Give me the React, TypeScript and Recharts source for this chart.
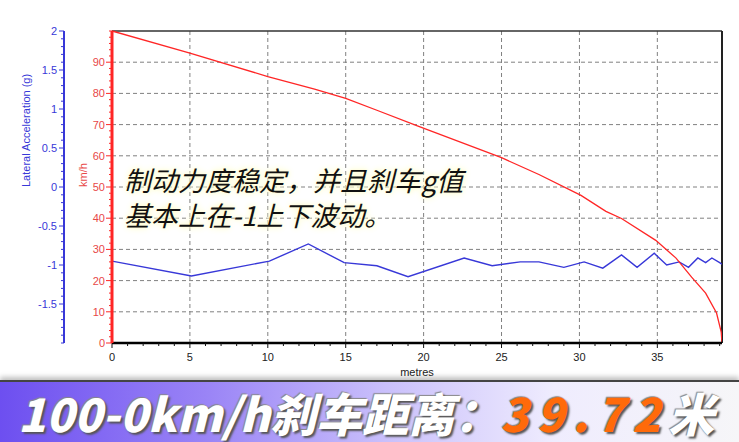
import {
  CartesianGrid,
  Line,
  LineChart,
  ReferenceLine,
  XAxis,
  YAxis,
} from 'recharts';

// speed trace (km/h) against distance (metres)
const speedDist = [0, 5, 10, 13, 15, 17, 19.6, 25, 27.4, 30.1, 31.7, 32.7, 34.9, 36.2, 37.2, 38.1, 38.8, 39.1, 39.15];
const speedKmh = [100, 92.9, 85.4, 81.4, 78.4, 74.6, 69.6, 59.4, 54.0, 47.3, 42.2, 39.9, 32.9, 27.2, 21.1, 16.0, 9.6, 3.5, 0];

// lateral acceleration trace (g) against distance (metres)
const gDist = [0, 5.1, 10.1, 12.6, 14.9, 17.0, 19.0, 22.6, 24.4, 26.2, 27.4, 29.0, 30.3, 31.5, 32.7, 33.7, 34.8, 35.6, 36.4, 37.0, 37.6, 38.1, 38.5, 39.0, 39.15];
const gValues = [-0.95, -1.14, -0.95, -0.73, -0.97, -1.01, -1.15, -0.91, -1.01, -0.96, -0.96, -1.03, -0.96, -1.04, -0.87, -1.03, -0.85, -1.0, -0.96, -1.03, -0.91, -0.97, -0.91, -0.97, -0.99];

const xMajorTicks = [0, 5, 10, 15, 20, 25, 30, 35];
const speedMajorTicks = [0, 10, 20, 30, 40, 50, 60, 70, 80, 90];
const gMajorTicks = [-1.5, -1, -0.5, 0, 0.5, 1, 1.5, 2];

const xMax = 39.15;

const speedData = speedDist.map((d, i) => ({ d, v: speedKmh[i] }));
const gData = gDist.map((d, i) => ({ d, g: gValues[i] }));

// minor tick positions for the axes
const xTicks = Array.from({ length: 40 }, (_, i) => i);
const speedTicks = Array.from({ length: 51 }, (_, i) => i * 2);
const gTicks = Array.from({ length: 41 }, (_, i) => (i - 20) / 10);

const BLUE = '#3838d8';
const RED = '#ff2626';
const RED_TEXT = '#e84848';
const AXIS_FONT = '"Liberation Sans", Arial, sans-serif';

// ids sort so that the km/h axis sits next to the plot
const SPEED_AXIS = 'a';
const G_AXIS = 'b';

function GTick(props: any) {
  const { x, y, payload } = props;
  const v = payload.value;
  const major = gMajorTicks.includes(v);
  const ax = x + 8;
  return (
    <g>
      <line x1={ax - (major ? 5 : 3)} x2={ax} y1={y} y2={y} stroke={BLUE} strokeWidth={1} />
      {major && (
        <text x={ax - 7} y={y} dy={4} textAnchor="end" fill={BLUE} fontSize={11} fontFamily={AXIS_FONT}>
          {v}
        </text>
      )}
    </g>
  );
}

function SpeedTick(props: any) {
  const { x, y, payload } = props;
  const v = payload.value;
  const major = speedMajorTicks.includes(v);
  const ax = x + 8;
  return (
    <g>
      <line x1={ax - (major ? 6 : 3)} x2={ax} y1={y} y2={y} stroke={RED} strokeWidth={1} />
      {major && (
        <text x={ax - 7} y={y} dy={4} textAnchor="end" fill={RED_TEXT} fontSize={11} fontFamily={AXIS_FONT}>
          {v}
        </text>
      )}
    </g>
  );
}

function DistTick(props: any) {
  const { x, y, payload } = props;
  const v = payload.value;
  const major = xMajorTicks.includes(v);
  const ay = y - 8;
  return (
    <g>
      <line x1={x} x2={x} y1={ay} y2={ay + (major ? 5 : 3)} stroke="#111" strokeWidth={1} />
      {major && (
        <text x={x} y={ay + 18} textAnchor="middle" fill="#222" fontSize={11} fontFamily={AXIS_FONT}>
          {v}
        </text>
      )}
    </g>
  );
}

export default function App() {
  return (
    <div
      style={{
        position: 'absolute',
        left: 0,
        top: 0,
        width: 739,
        height: 442,
        background: '#fff',
        overflow: 'hidden',
      }}
    >
      <LineChart width={739} height={380} margin={{ top: 31, right: 17, bottom: 0, left: 0 }}>
        <CartesianGrid
          xAxisId="m"
          yAxisId={SPEED_AXIS}
          horizontalValues={speedMajorTicks.slice(1)}
          verticalValues={xMajorTicks.slice(1)}
          stroke="#808080"
          strokeDasharray="4 3"
        />
        <XAxis
          xAxisId="m"
          type="number"
          dataKey="d"
          domain={[0, xMax]}
          allowDataOverflow
          ticks={xTicks}
          interval={0}
          height={37}
          tickLine={false}
          tick={<DistTick />}
          axisLine={{ stroke: '#000', strokeWidth: 2.5 }}
          label={{ value: 'metres', position: 'insideBottom', offset: 4, fill: '#222', fontSize: 11, fontFamily: AXIS_FONT }}
        />
        <YAxis
          yAxisId={SPEED_AXIS}
          orientation="left"
          domain={[0, 100]}
          ticks={speedTicks}
          interval={0}
          width={48}
          tickLine={false}
          tick={<SpeedTick />}
          axisLine={{ stroke: RED, strokeWidth: 3 }}
          label={{ value: 'km/h', angle: -90, position: 'insideLeft', offset: 19, fill: RED_TEXT, fontSize: 11, fontFamily: AXIS_FONT }}
        />
        <YAxis
          yAxisId={G_AXIS}
          orientation="left"
          domain={[-2, 2]}
          ticks={gTicks}
          interval={0}
          width={64}
          tickLine={false}
          tick={<GTick />}
          axisLine={{ stroke: BLUE, strokeWidth: 2 }}
          label={{ value: 'Lateral Acceleration (g)', angle: -90, position: 'insideLeft', offset: 26, fill: BLUE, fontSize: 11, fontFamily: AXIS_FONT }}
        />
        <ReferenceLine xAxisId="m" yAxisId={SPEED_AXIS} y={100} stroke="#333" strokeWidth={1.5} />
        <ReferenceLine xAxisId="m" yAxisId={SPEED_AXIS} x={xMax} stroke="#222" strokeWidth={2} />
        <Line
          xAxisId="m"
          yAxisId={G_AXIS}
          data={gData}
          dataKey="g"
          type="linear"
          dot={false}
          stroke={BLUE}
          strokeWidth={1.4}
          isAnimationActive={false}
        />
        <Line
          xAxisId="m"
          yAxisId={SPEED_AXIS}
          data={speedData}
          dataKey="v"
          type="linear"
          dot={false}
          stroke={RED}
          strokeWidth={1.3}
          isAnimationActive={false}
        />
      </LineChart>

      <div
        style={{
          position: 'absolute',
          left: 124,
          top: 162,
          fontFamily: '"Noto Sans CJK SC", sans-serif',
          fontSize: 27,
          lineHeight: '35px',
          fontStyle: 'italic',
          color: '#111',
          whiteSpace: 'nowrap',
          textShadow: '0 0 3px #fffbd0, 0 0 6px #fffbc8, 0 0 8px #fffde0',
        }}
      >
        制动力度稳定，并且刹车g值
        <br />
        基本上在-1上下波动。
      </div>

      <div
        style={{
          position: 'absolute',
          left: 0,
          top: 380,
          width: 739,
          height: 60,
          background: 'linear-gradient(90deg, #6d4ff0 0%, #9a84f6 28%, #c9bffb 52%, #efecfe 75%, #f6f6f8 100%)',
          borderTop: '2px solid #444',
          boxShadow: '0 -3px 5px rgba(0,0,0,0.25)',
        }}
      >
        <div
          style={{
            position: 'absolute',
            left: 18,
            top: 0,
            height: 60,
            lineHeight: '60px',
            fontFamily: '"Noto Sans CJK SC", sans-serif',
            fontSize: 46,
            fontWeight: 900,
            fontStyle: 'italic',
            color: '#fff',
            whiteSpace: 'nowrap',
            textShadow: '2px 2px 2px #555, -1px -1px 1px #888',
          }}
        >
          100-0km/h刹车距离：<span style={{ color: '#ff6a0a', letterSpacing: 8 }}>39.72</span>米
        </div>
      </div>
    </div>
  );
}
